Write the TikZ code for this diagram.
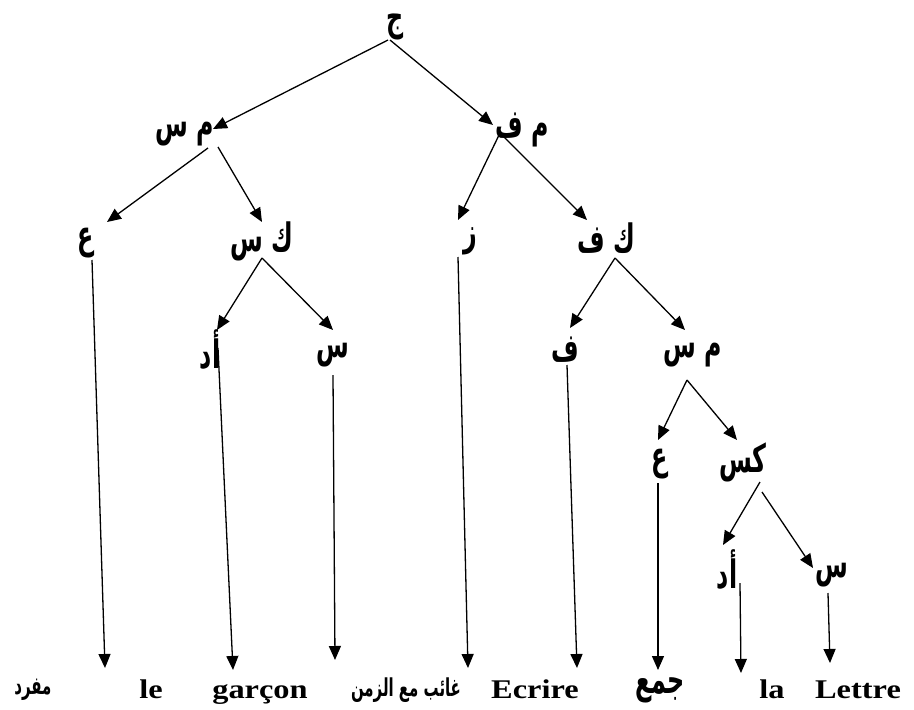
\documentclass[tikz,border=0pt]{standalone}
\usepackage{fontspec}
\usepackage{graphicx}
\setmainfont{Liberation Serif}
\newfontfamily\arfont[Script=Arabic]{DejaVu Sans}
\TeXXeTstate=1
\usetikzlibrary{arrows.meta}
\newcommand{\AR}[1]{\scalebox{0.88}[1.45]{\arfont\bfseries\beginR #1\endR}}
\newcommand{\LAT}[1]{\scalebox{1.2}[1]{\bfseries #1}}
\begin{document}
\begin{tikzpicture}[x=1pt,y=-1pt,
  lab/.style={inner sep=0pt,font=\fontsize{27}{29}\selectfont},
  small/.style={inner sep=0pt,font=\fontsize{17}{19}\selectfont},
  word/.style={inner sep=0pt,anchor=base,font=\fontsize{27}{29}\selectfont},
  edge/.style={line width=1.3pt,-{Triangle[length=14pt,width=12pt]}}]
\useasboundingbox (0,0) rectangle (914,710);
% tree labels
\node[lab] (J)   at (395,27)  {\AR{ج}};
\node[lab] (MS1) at (185,134) {\AR{م س}};
\node[lab] (MF)  at (522,130) {\AR{م ف}};
\node[lab] (A1)  at (86,243)  {\AR{ع}};
\node[lab] (KS)  at (262,241) {\AR{ك س}};
\node[lab] (Z)   at (470,241) {\AR{ز}};
\node[lab] (KF)  at (606,238) {\AR{ك ف}};
\node[lab] (AD1) at (210,350) {\AR{أد}};
\node[lab] (S1)  at (333,355) {\AR{س}};
\node[lab] (F)   at (565,350) {\AR{ف}};
\node[lab] (MS2) at (693,355) {\AR{م س}};
\node[lab] (A2)  at (660,464) {\AR{ع}};
\node[lab] (KS2) at (743,462) {\AR{كس}};
\node[lab] (AD2) at (727,570) {\AR{أد}};
\node[lab] (S2)  at (832,575) {\AR{س}};
% bottom words
\node[small] (B1) at (33,690) {\AR{مفرد}};
\node[word] (B2) at (151,698) {\LAT{le}};
\node[word] (B3) at (260,698) {\LAT{garçon}};
\node[small] (B4) at (406,690) {\AR{غائب مع الزمن}};
\node[word] (B5) at (535,698) {\LAT{Ecrire}};
\node[lab] (B6) at (660,690) {\AR{جمع}};
\node[word] (B7) at (772,698) {\LAT{la}};
\node[word] (B8) at (858,698) {\LAT{Lettre}};
% connector ports
\coordinate (J-o1) at (388,40);  \coordinate (J-o2) at (390,40);
\coordinate (MS1-i) at (213,129); \coordinate (MF-i) at (493,125);
\coordinate (MS1-o1) at (208,148); \coordinate (MS1-o2) at (218,147);
\coordinate (A1-i) at (107,222); \coordinate (KS-i) at (262,222);
\coordinate (MF-o) at (500,133);
\coordinate (Z-i) at (458,220); \coordinate (KF-i) at (587,220);
\coordinate (A1-o) at (92,260); \coordinate (B2-t) at (105,668);
\coordinate (KS-o) at (262,258);
\coordinate (AD1-i) at (217,330); \coordinate (S1-i) at (333,330);
\coordinate (Z-o) at (458,257); \coordinate (B4-t) at (468,668);
\coordinate (KF-o) at (615,258);
\coordinate (F-i) at (570,328); \coordinate (MS2-i) at (685,330);
\coordinate (AD1-o) at (218,348); \coordinate (B3-t) at (233,670);
\coordinate (S1-o) at (333,375); \coordinate (B3b-t) at (335,660);
\coordinate (F-o) at (567,365); \coordinate (B5-t) at (577,668);
\coordinate (MS2-o) at (687,380);
\coordinate (A2-i) at (658,440); \coordinate (KS2-i) at (737,440);
\coordinate (A2-o) at (658,483); \coordinate (B6-t) at (658,670);
\coordinate (KS2-o1) at (760,482); \coordinate (KS2-o2) at (762,492);
\coordinate (AD2-i) at (723,545); \coordinate (S2-i) at (813,568);
\coordinate (AD2-o) at (740,583); \coordinate (B7-t) at (741,673);
\coordinate (S2-o) at (828,593); \coordinate (B8-t) at (830,663);
% connectors
\draw[edge] (J-o1) -- (MS1-i);
\draw[edge] (J-o2) -- (MF-i);
\draw[edge] (MS1-o1) -- (A1-i);
\draw[edge] (MS1-o2) -- (KS-i);
\draw[edge] (MF-o) -- (Z-i);
\draw[edge] (MF-o) -- (KF-i);
\draw[edge] (A1-o) -- (B2-t);
\draw[edge] (KS-o) -- (AD1-i);
\draw[edge] (KS-o) -- (S1-i);
\draw[edge] (Z-o) -- (B4-t);
\draw[edge] (KF-o) -- (F-i);
\draw[edge] (KF-o) -- (MS2-i);
\draw[edge] (AD1-o) -- (B3-t);
\draw[edge] (S1-o) -- (B3b-t);
\draw[edge] (F-o) -- (B5-t);
\draw[edge] (MS2-o) -- (A2-i);
\draw[edge] (MS2-o) -- (KS2-i);
\draw[edge] (A2-o) -- (B6-t);
\draw[edge] (KS2-o1) -- (AD2-i);
\draw[edge] (KS2-o2) -- (S2-i);
\draw[edge] (AD2-o) -- (B7-t);
\draw[edge] (S2-o) -- (B8-t);
\end{tikzpicture}
\end{document}
